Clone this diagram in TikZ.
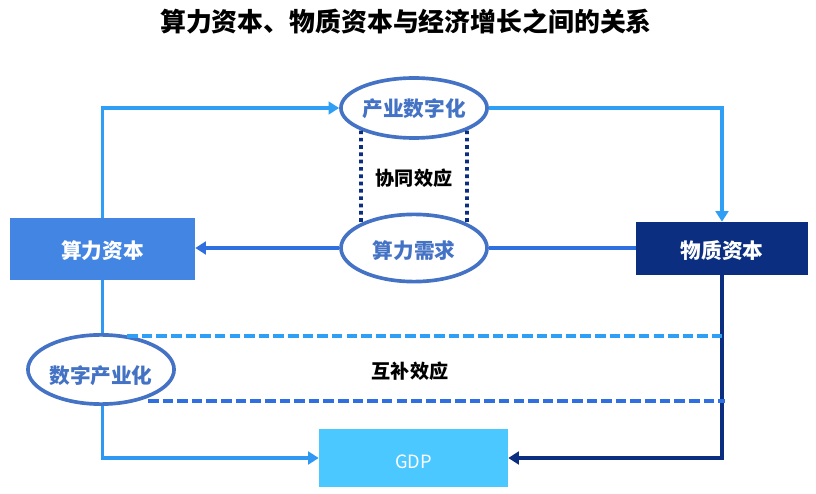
\documentclass[tikz,border=0pt]{standalone}
\usepackage{fontspec}
\setmainfont{Noto Sans CJK SC}
\usetikzlibrary{arrows.meta,shapes.geometric}
\definecolor{capitalblue}{HTML}{4285E3}
\definecolor{matternavy}{HTML}{0B2E80}
\definecolor{gdpblue}{HTML}{4AC8FF}
\definecolor{ringblue}{HTML}{4472C4}
\definecolor{skyline}{HTML}{2E9FF5}
\definecolor{midline}{HTML}{2F6FE0}
\newcommand{\sinkby}[2]{\raisebox{-#1}[\height][\depth]{#2}}
\tikzset{
	box/.style={draw=none, inner sep=0pt, text=white, font=\fontsize{14.7pt}{16pt}\selectfont\bfseries},
	ring/.style={ellipse, draw=ringblue, fill=white, line width=2.6pt, inner sep=0pt, text=ringblue, font=\fontsize{14.7pt}{16pt}\selectfont\bfseries},
	effect/.style={font=\fontsize{13.6pt}{15pt}\selectfont\bfseries},
	link/.style={line width=2.7pt, -{Triangle[length=7.5pt,width=9pt]}},
	plainlink/.style={line width=2.7pt},
	dashlink/.style={line width=2.7pt, dash pattern=on 7.5pt off 2.9pt},
	dotlink/.style={line width=2.7pt, color=matternavy, dash pattern=on 2.6pt off 2.6pt},
}

\begin{document}
\begin{tikzpicture}
	\useasboundingbox (0, 0) rectangle (20.4, 12.35);
	\node [font=\fontsize{18.4pt}{20pt}\selectfont\bfseries] (title) at (10.15, 11.82) {算力资本、物质资本与经济增长之间的关系};

	\node [box, fill=capitalblue, minimum width=4.625cm, minimum height=1.55cm] (capital) at (2.5625, 6.125) {\sinkby{1pt}{算力资本}};
	\node [box, fill=matternavy, minimum width=4.3cm, minimum height=1.325cm] (matter) at (18.05, 6.1375) {\sinkby{1.2pt}{物质资本}};
	\node [box, fill=gdpblue, minimum width=4.725cm, minimum height=1.45cm, font=\fontsize{13pt}{15pt}\selectfont] (gdp) at (10.3375, 0.9) {\sinkby{2.4pt}{GDP}};

	\node [ring, minimum width=3.65cm, minimum height=1.5cm] (digital) at (10.35, 9.65) {\sinkby{0.6pt}{产业数字化}};
	\node [ring, minimum width=3.65cm, minimum height=1.68cm] (demand) at (10.35, 6.15) {\sinkby{2.2pt}{算力需求}};
	\node [ring, minimum width=3.6cm, minimum height=1.73cm] (industry) at (2.525, 3.1125) {\sinkby{4.2pt}{数字产业化}};

	\node [effect] (synergy) at (10.35, 7.9) {协同效应};
	\node [effect] (comple) at (10.25, 3.08) {互补效应};

	% top loop
	\draw [link, color=skyline] (capital.north) |- (digital.west);
	\draw [link, color=skyline] (digital.east) -| (matter.north);
	% demand line
	\draw [link, color=midline] (demand.west) -- (capital.east |- demand.west);
	\draw [plainlink, color=midline] (demand.east) -- (matter.west |- demand.east);
	% dotted pair
	\draw [dotlink] (digital.south west) -- (demand.north west);
	\draw [dotlink] (digital.south east) -- (demand.north east);
	% down to gdp
	\draw [plainlink, color=skyline!85!midline] (capital.south) -- (capital.south |- industry.north);
	\draw [link, color=skyline!85!midline] (capital.south |- industry.south) |- (gdp.west);
	\draw [link, color=matternavy] (matter.south) |- (gdp.east);
	% dashed pair
	\coordinate (upstart) at (3.18, 3.95);
	\coordinate (upend) at (18.05, 3.95);
	\coordinate (lowstart) at (3.7, 2.325);
	\coordinate (lowend) at (18.13, 2.325);
	\draw [dashlink, color=skyline] (upstart) -- (upend);
	\draw [dashlink, color=midline] (lowstart) -- (lowend);
\end{tikzpicture}
\end{document}
